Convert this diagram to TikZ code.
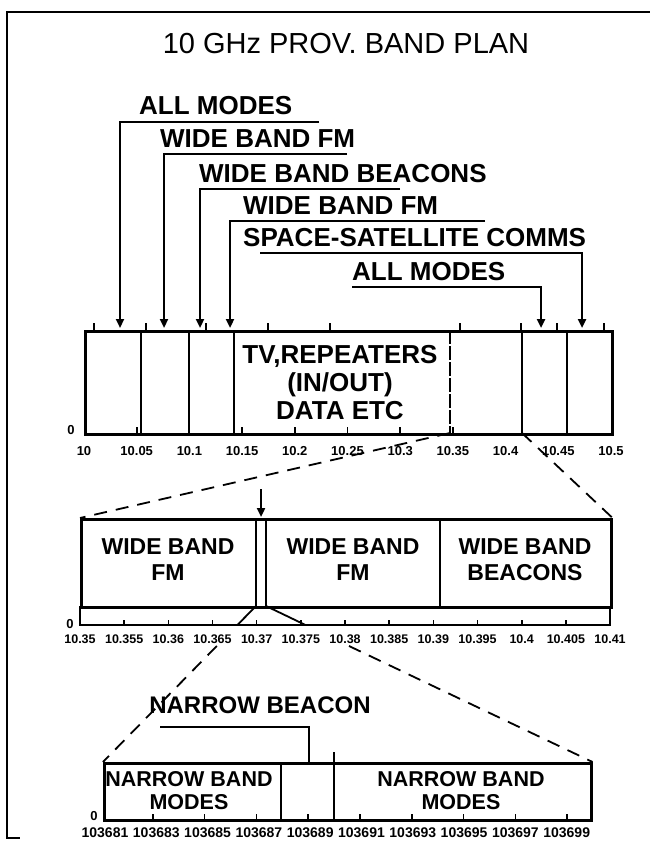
\documentclass[tikz,border=0pt]{standalone}
\usepackage{fontspec}
\setmainfont{Liberation Sans}
\usetikzlibrary{arrows.meta}

\begin{document}
\begin{tikzpicture}[x=1pt,y=-1pt,>={Triangle[length=9pt,width=8pt]}]
  \tikzstyle{lbl}=[font=\fontsize{26}{29}\selectfont\bfseries,inner sep=0pt,anchor=base west]
  \tikzstyle{boxtxt}=[font=\fontsize{26}{29}\selectfont\bfseries,inner sep=0pt,anchor=base]
  \tikzstyle{midtxt}=[font=\fontsize{23}{26}\selectfont\bfseries,inner sep=0pt,anchor=base]
  \tikzstyle{lowtxt}=[font=\fontsize{21.5}{24}\selectfont\bfseries,inner sep=0pt,anchor=base]
  \tikzstyle{sclA}=[font=\fontsize{13}{13}\selectfont\bfseries,inner sep=0pt]
  \tikzstyle{sclB}=[font=\fontsize{12.5}{13}\selectfont\bfseries,inner sep=0pt]
  \tikzstyle{sclC}=[font=\fontsize{14}{14}\selectfont\bfseries,inner sep=0pt]
  \tikzstyle{band}=[draw,line width=2.6pt,inner sep=0pt,anchor=north west]
  \tikzstyle{leader}=[line width=2.4pt]
  \tikzstyle{tick}=[line width=1.6pt]
  \tikzstyle{zoomln}=[line width=1.8pt,dash pattern=on 13pt off 9pt]

  \useasboundingbox (0,0) rectangle (650,841);
  % frame of the scan
  \draw[line width=2.5pt] (650,12) -- (7,12) -- (7,838) -- (20,838);

  \node[font=\fontsize{29}{32}\selectfont,inner sep=0pt,anchor=base] (title) at (346,53) {10 GHz PROV. BAND PLAN};

  % labels above the main band
  \node[lbl] (allA) at (139,114) {ALL MODES};
  \node[lbl] (wfmA) at (160,147) {WIDE BAND FM};
  \node[lbl] (wbb) at (199,182) {WIDE BAND BEACONS};
  \node[lbl] (wfmB) at (243,214) {WIDE BAND FM};
  \node[lbl] (sat) at (243,246) {SPACE-SATELLITE COMMS};
  \node[lbl] (allB) at (352,280) {ALL MODES};

  % main band 10 - 10.5
  \node[band,minimum width=527pt,minimum height=103pt] (band1) at (84,330) {};
  \draw[line width=2.6pt] (141,330) -- (141,433);
  \draw[line width=2.6pt] (189,330) -- (189,433);
  \draw[line width=2.6pt] (234,330) -- (234,433);
  \draw[line width=2.4pt,dash pattern=on 14pt off 2pt] (450,330) -- (450,433);
  \draw[line width=2.6pt] (522,330) -- (522,433);
  \draw[line width=2.6pt] (567,330) -- (567,433);
  \foreach \x in {94,146,206,268,330,460,521,557,604}
    \draw[tick] (\x,330) -- (\x,323);
  \foreach \i in {1,...,7}
    \draw[tick] (84+52.7*\i,433) -- (84+52.7*\i,427);
  \node[boxtxt] (tvA) at (340,363) {TV,REPEATERS};
  \node[boxtxt] (tvB) at (340,391) {(IN/OUT)};
  \node[boxtxt] (tvC) at (340,419) {DATA ETC};
  \node[sclA] (zeroA) at (71,430) {0};
  \foreach \v [count=\i from 0] in {10,10.05,10.1,10.15,10.2,10.25,10.3,10.35,10.4,10.45,10.5}
    \node[sclA] (sa\i) at (84+52.7*\i,451) {\v};

  % leaders into the main band
  \coordinate (lA) at (319,122);  \coordinate (tA) at (120,328);
  \coordinate (lB) at (347,154);  \coordinate (tB) at (164,328);
  \coordinate (lC) at (400,189);  \coordinate (tC) at (200,328);
  \coordinate (lD) at (485,221);  \coordinate (tD) at (230,328);
  \coordinate (lE) at (260,253);  \coordinate (tE) at (582,328);
  \coordinate (lF) at (352,287);  \coordinate (tF) at (541,328);
  \draw[leader,->] (lA) -| (tA);
  \draw[leader,->] (lB) -| (tB);
  \draw[leader,->] (lC) -| (tC);
  \draw[leader,->] (lD) -| (tD);
  \draw[leader,->] (lE) -| (tE);
  \draw[leader,->] (lF) -| (tF);

  % second band 10.35 - 10.41
  \node[band,minimum width=530pt,minimum height=88pt] (band2) at (80,518) {};
  \draw[line width=2pt] (256,518) -- (256,606);
  \draw[line width=2pt] (266,518) -- (266,606);
  \draw[line width=2.6pt] (440,518) -- (440,606);
  \draw[line width=2pt] (80,606) -- (80,625) -- (610,625) -- (610,606);
  \foreach \i in {1,...,11}
    \draw[tick] (80+44.17*\i,625) -- (80+44.17*\i,620);
  \node[midtxt] (fmA1) at (168,554) {WIDE BAND};
  \node[midtxt] (fmA2) at (168,580) {FM};
  \node[midtxt] (fmB1) at (353,554) {WIDE BAND};
  \node[midtxt] (fmB2) at (353,580) {FM};
  \node[midtxt] (bcn1) at (525,554) {WIDE BAND};
  \node[midtxt] (bcn2) at (525,580) {BEACONS};
  \node[sclA] (zeroB) at (70,624) {0};
  \foreach \v [count=\i from 0] in {10.35,10.355,10.36,10.365,10.37,10.375,10.38,10.385,10.39,10.395,10.4,10.405,10.41}
    \node[sclB] (sb\i) at (80+44.17*\i,639) {\v};
  \coordinate (nbTop) at (261,489);  \coordinate (nbHit) at (261,517);
  \draw[leader,->] (nbTop) -- (nbHit);

  % expansion of the main band
  \coordinate (cutA) at (450,433);
  \coordinate (cutB) at (522,433);
  \draw[zoomln] (cutA) -- (band2.north west);
  \draw[zoomln] (cutB) -- (band2.north east);

  % third band
  \node[band,minimum width=487pt,minimum height=57pt] (band3) at (103,762) {};
  \draw[line width=2.4pt] (281,762) -- (281,819);
  \draw[line width=2.8pt] (334,752) -- (334,819);
  \foreach \i in {1,...,9}
    \draw[tick] (101+51.8*\i,819) -- (101+51.8*\i,814);
  \node[lowtxt] (nbmA1) at (189,786) {NARROW BAND};
  \node[lowtxt] (nbmA2) at (189,809) {MODES};
  \node[lowtxt] (nbmB1) at (461,786) {NARROW BAND};
  \node[lowtxt] (nbmB2) at (461,809) {MODES};
  \node[sclA] (zeroC) at (94,816) {0};
  \foreach \v [count=\i from 0] in {103681,103683,103685,103687,103689,103691,103693,103695,103697,103699}
    \node[sclC] (sc\i) at (105+51.3*\i,833) {\v};
  \node[font=\fontsize{24}{26}\selectfont\bfseries,inner sep=0pt,anchor=base] (nbeacon) at (260,713) {NARROW BEACON};
  \coordinate (nbL) at (160,727);  \coordinate (nbT) at (309,762);
  \draw[leader] (nbL) -| (nbT);

  % expansion of the narrow channel
  \coordinate (chL) at (256,606);  \coordinate (chR) at (266,606);
  \coordinate (bsL) at (237.4,625); \coordinate (bsR) at (305.5,625);
  \coordinate (dL) at (216.8,646);  \coordinate (dR) at (349,646);
  \draw[line width=1.8pt] (chL) -- (bsL);
  \draw[line width=1.8pt] (chR) -- (bsR);
  \draw[zoomln] (dL) -- (band3.north west);
  \draw[zoomln] (dR) -- (band3.north east);
\end{tikzpicture}
\end{document}
